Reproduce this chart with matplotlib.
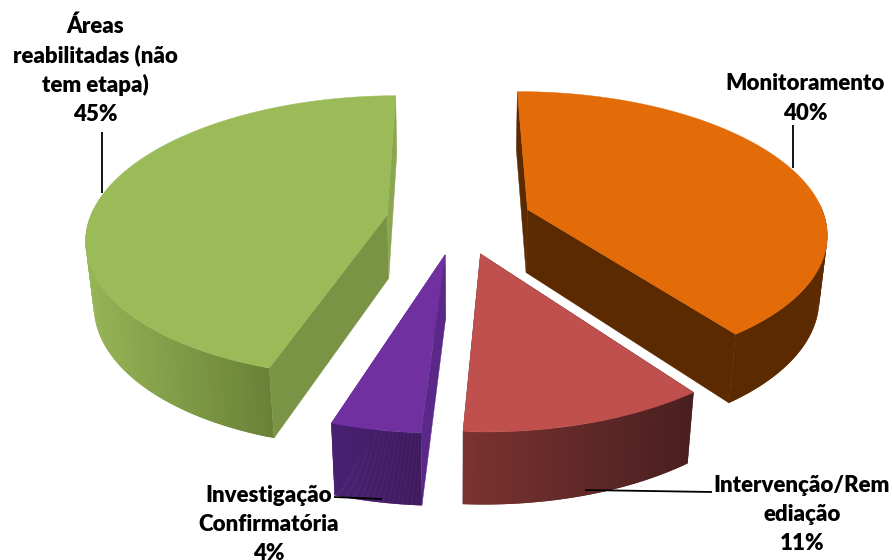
import numpy as np
import matplotlib
matplotlib.use("Agg")
import matplotlib.pyplot as plt
from matplotlib.colors import to_rgb

# Shares, clockwise from twelve o'clock
shares = [40, 11, 4, 45]
label_lines = [
    ["Monitoramento", "40%"],
    ["Intervenção/Rem", "ediação", "11%"],
    ["Investigação", "Confirmatória", "4%"],
    ["Áreas", "reabilitadas (não", "tem etapa)", "45%"],
]
top_colors = ["#E36C09", "#C0504D", "#7030A0", "#9BBB59"]
wall_left = ["#5C2A00", "#7A3330", "#4A2072", "#96B556"]
wall_right = ["#5C2A00", "#4A1F20", "#3E1A5E", "#6A8238"]
cut_start = ["#5C2A00", "#4A1F20", "#5A2888", "#7A9445"]
cut_end = ["#5C2A00", "#4A1F20", "#5A2888", "#8AA650"]
label_pos = [(805, 84), (802, 485), (269, 495), (95, 26)]
leaders = [((793, 793), (125, 168)), ((585, 712), (490, 492)),
           ((334, 382), (497, 499)), ((102, 102), (132, 193))]

# Camera and pie proportions, in pixels
CX, CY = 459, 220
RX, RY = 298, 139
PERSP, PERSP_Z = 0.154, 0.022
DEPTH = 65
EXPLODE = 0.245
ROTATION = np.radians(-0.25)
LINE_H = 29.5


def project(x, y, z=0.0):
    w = 1 + PERSP * y + PERSP_Z * z
    return CX + RX * x / w, CY + (-RY * y + DEPTH * z) / w


fig = plt.figure(figsize=(8.92, 5.6), dpi=100)
ax = fig.add_axes([0, 0, 1, 1])
ax.set_xlim(0, 892)
ax.set_ylim(560, 0)
ax.axis("off")

edges = np.cumsum([0] + shares) / sum(shares) * 2 * np.pi + ROTATION
spans = list(zip(edges[:-1], edges[1:]))

# Far slices first so the nearer ones paint over them
for i in [3, 0, 2, 1]:
    t0, t1 = spans[i]
    mid = (t0 + t1) / 2
    ox, oy = EXPLODE * np.sin(mid), EXPLODE * np.cos(mid)
    t = np.linspace(t0, t1, 160)
    x, y = ox + np.sin(t), oy + np.cos(t)
    tx, ty = project(x, y, 0)
    bx, by = project(x, y, 1)
    ax_t, ay_t = project(ox, oy, 0)
    ax_b, ay_b = project(ox, oy, 1)

    # Radial cut faces
    for j, col in ((0, cut_start[i]), (-1, cut_end[i])):
        ax.fill([ax_t, tx[j], bx[j], ax_b], [ay_t, ty[j], by[j], ay_b],
                color=col, lw=0.3, zorder=i + 1)

    # Outer wall on the near side only, shaded left to right;
    # each strip overlaps the next so no seams show
    front = np.flatnonzero(np.cos(t) < 0.05)
    xmin, xmax = tx[front].min(), tx[front].max()
    c0, c1 = np.array(to_rgb(wall_left[i])), np.array(to_rgb(wall_right[i]))
    for j in front[:-1]:
        k = min(j + 2, front[-1])
        f = (tx[j] - xmin) / (xmax - xmin)
        ax.fill([tx[j], tx[k], bx[k], bx[j]], [ty[j], ty[k], by[k], by[j]],
                color=c0 + (c1 - c0) * f, lw=0, zorder=i + 1)

    # Top face
    ax.fill(np.r_[ax_t, tx], np.r_[ay_t, ty], color=top_colors[i], lw=0.3,
            zorder=i + 1.5)

for xs, ys in leaders:
    ax.plot(xs, ys, color="black", lw=1.3, zorder=10, solid_capstyle="butt")

for lines, (lx, ly) in zip(label_lines, label_pos):
    for n, line in enumerate(lines):
        ax.text(lx, ly + n * LINE_H, line, ha="center", va="center",
                fontsize=16, fontweight="heavy", family="Lato", color="black",
                zorder=11)

fig.savefig("out.png", dpi=100, facecolor="white")
